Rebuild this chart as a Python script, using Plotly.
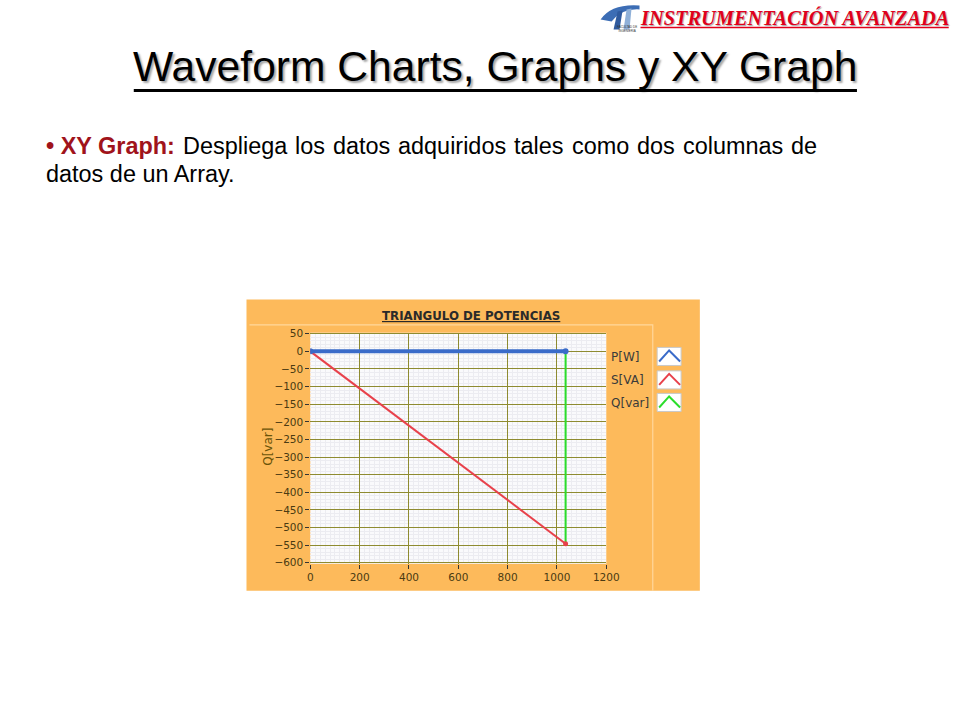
import plotly.graph_objects as go

# ---- data ----
p_x = [0, 1035]
p_y = [0, 0]
s_x = [0, 1035]
s_y = [0, -546]
q_x = [1035, 1035]
q_y = [0, -546]

x_ticks = [0, 200, 400, 600, 800, 1000, 1200]
y_ticks = [50, 0, -50, -100, -150, -200, -250, -300, -350, -400, -450, -500, -550, -600]
legend_names = ["P[W]", "S[VA]", "Q[var]"]
legend_colors = ["#3A6BC9", "#E8414B", "#2BDD2B"]

bullet_lead = "• XY Graph:"
bullet_words = ["Despliega", "los", "datos", "adquiridos", "tales", "como", "dos", "columnas", "de"]
bullet_line2 = "datos de un Array."

W, H = 960, 720
# compensation for the slight shrink observed in the photographed page
AX, BX = 0.9858, 1.9
AY, BY = 0.984, 5.6
def px(x):
    return ((x - BX) / AX) / W
def py(y):
    return 1 - ((y - BY) / AY) / H

fig = go.Figure()
fig.add_trace(go.Scatter(x=q_x, y=q_y, mode="lines", line=dict(color=legend_colors[2], width=2),
                         showlegend=False, hoverinfo="skip"))
fig.add_trace(go.Scatter(x=s_x, y=s_y, mode="lines+markers", line=dict(color=legend_colors[1], width=2),
                         marker=dict(size=5, color=legend_colors[1]), showlegend=False, hoverinfo="skip"))
fig.add_trace(go.Scatter(x=p_x, y=p_y, mode="lines+markers", line=dict(color=legend_colors[0], width=4),
                         marker=dict(size=6, color=legend_colors[0]), showlegend=False, hoverinfo="skip"))

tickfont = dict(family="DejaVu Sans", size=10.5, color="#4A3A12")
major = "#8E8B30"
minor_c = "#ECECF1"

fig.update_xaxes(domain=[px(310), px(606.7)], range=[0, 1200], tickvals=x_ticks,
                 showgrid=True, gridcolor=major, gridwidth=1, zeroline=False, showline=False,
                 ticks="outside", ticklen=4, tickcolor="#333", tickfont=tickfont,
                 minor=dict(dtick=20, showgrid=True, gridcolor=minor_c, gridwidth=1))
fig.update_yaxes(domain=[py(563.2), py(332.6)], range=[-603, 53], tickvals=y_ticks,
                 showgrid=True, gridcolor=major, gridwidth=1, zeroline=False, showline=False,
                 ticks="outside", ticklen=4, tickcolor="#333", tickfont=tickfont,
                 minor=dict(dtick=10, showgrid=True, gridcolor=minor_c, gridwidth=1))

shapes = []
# orange panel
shapes.append(dict(type="rect", xref="paper", yref="paper", x0=px(246), x1=px(700.5), y0=py(590), y1=py(299.5),
                   fillcolor="#FDBA5B", line=dict(width=0), layer="below"))
# white plot area
shapes.append(dict(type="rect", xref="paper", yref="paper", x0=px(310), x1=px(606.7), y0=py(563.2), y1=py(332.6),
                   fillcolor="#FAFAFC", line=dict(width=0), layer="below"))
# faint inner frame
shapes.append(dict(type="path", xref="paper", yref="paper",
                   path=f"M {px(249)} {py(324.7)} L {px(653.3)} {py(324.7)} L {px(653.3)} {py(590)}",
                   line=dict(color="#FFD79C", width=1.2), layer="below"))
# legend icon boxes
box_tops = [347.3, 370.7, 393.2]
for top, col in zip(box_tops, legend_colors):
    l, r, b = 657.7, 681.7, top + 18
    shapes.append(dict(type="rect", xref="paper", yref="paper", x0=px(l), x1=px(r), y0=py(b), y1=py(top),
                       fillcolor="white", line=dict(color="#C9C9C9", width=1)))
    shapes.append(dict(type="path", xref="paper", yref="paper",
                       path=f"M {px(l+2)} {py(b-4)} L {px((l+r)/2)} {py(top+3)} L {px(r-1)} {py(b-4)}",
                       line=dict(color=col, width=2)))
# title underline
shapes.append(dict(type="line", xref="paper", yref="paper", x0=px(133), x1=px(858), y0=py(91), y1=py(91),
                   line=dict(color="black", width=3)))
# header underline
shapes.append(dict(type="line", xref="paper", yref="paper", x0=px(641), x1=px(950), y0=py(28), y1=py(28),
                   line=dict(color="#E0001B", width=1.5)))
# logo (stylised)
shapes.append(dict(type="path", xref="paper", yref="paper",
                   path=(f"M {px(601)} {py(20)} Q {px(612)} {py(4)} {px(640)} {py(6)} "
                         f"L {px(640)} {py(10)} Q {px(622)} {py(9)} {px(612)} {py(22)} Z"),
                   fillcolor="#3C6DB5", line=dict(width=0)))
shapes.append(dict(type="path", xref="paper", yref="paper",
                   path=(f"M {px(614)} {py(30)} L {px(618)} {py(12)} L {px(623)} {py(11)} L {px(620)} {py(30)} Z"),
                   fillcolor="#2F5A9E", line=dict(width=0)))
shapes.append(dict(type="path", xref="paper", yref="paper",
                   path=(f"M {px(624)} {py(30)} L {px(627)} {py(10)} L {px(632)} {py(9)} L {px(630)} {py(30)} Z"),
                   fillcolor="#8FB0D8", line=dict(width=0)))

annotations = []
# slide header
annotations.append(dict(xref="paper", yref="paper", x=px(795.5), y=py(18), xanchor="center", yanchor="middle",
                        text="<b><i>INSTRUMENTACIÓN AVANZADA</i></b>", showarrow=False,
                        font=dict(family="Liberation Serif", size=20.4, color="#E0001B",
                                  shadow="1px 1px 1px rgba(0,0,0,0.35)")))
annotations.append(dict(xref="paper", yref="paper", x=px(627), y=py(29.5), xanchor="center", yanchor="middle",
                        text="FACULTAD DE<br>INGENIERIA", showarrow=False,
                        font=dict(family="Liberation Sans", size=3, color="#333")))
# slide title
annotations.append(dict(xref="paper", yref="paper", x=px(495.5), y=py(66), xanchor="center", yanchor="middle",
                        text="Waveform Charts, Graphs y XY Graph", showarrow=False,
                        font=dict(family="Liberation Sans", size=42.6, color="black",
                                  shadow="2px 2px 2px rgba(0,0,0,0.35)")))

# bullet text, first line justified between x=45 and x=818 (Arial advance widths, 1/1000 em)
FS = 23.45
reg = {"D": 722, "e": 556, "s": 500, "p": 556, "l": 222, "i": 222, "g": 556, "a": 556, "o": 556,
       "d": 556, "t": 278, "q": 556, "u": 556, "r": 333, "c": 500, "m": 833, "n": 556}
bold = {"•": 350, " ": 278, "X": 667, "Y": 667, "G": 778, "r": 389, "a": 556, "p": 611, "h": 611, ":": 333}
lead_w = sum(bold[c] for c in bullet_lead) * FS / 1000
word_w = [sum(reg[c] for c in w) * FS / 1000 for w in bullet_words]
left, right = 45, 818
gap = (right - left - lead_w - sum(word_w)) / len(bullet_words)
y1 = py(146)
annotations.append(dict(xref="paper", yref="paper", x=px(left - 2), y=y1, xanchor="left", yanchor="middle",
                        text=f"<b><span style='color:#A0131B'>{bullet_lead}</span></b>", showarrow=False,
                        font=dict(family="Liberation Sans", size=FS, color="black")))
xpos = left + lead_w + gap
for w, ww in zip(bullet_words, word_w):
    annotations.append(dict(xref="paper", yref="paper", x=px(xpos - 2), y=y1, xanchor="left", yanchor="middle",
                            text=w, showarrow=False,
                            font=dict(family="Liberation Sans", size=FS, color="black")))
    xpos += ww + gap
annotations.append(dict(xref="paper", yref="paper", x=px(43), y=py(174), xanchor="left", yanchor="middle",
                        text=bullet_line2, showarrow=False,
                        font=dict(family="Liberation Sans", size=FS, color="black")))
# chart title
annotations.append(dict(xref="paper", yref="paper", x=px(471.5), y=py(316.3), xanchor="center", yanchor="middle",
                        text="<b><u>TRIANGULO DE POTENCIAS</u></b>", showarrow=False,
                        font=dict(family="DejaVu Sans", size=11.8, color="#2A2A2A")))
# y-axis title
annotations.append(dict(xref="paper", yref="paper", x=px(268), y=py(446), xanchor="center", yanchor="middle",
                        text="Q[var]", textangle=-90, showarrow=False,
                        font=dict(family="DejaVu Sans", size=12, color="#6A5308")))
# legend labels
for yy, name in zip([357.3, 380, 402.5], legend_names):
    annotations.append(dict(xref="paper", yref="paper", x=px(609.5), y=py(yy), xanchor="left", yanchor="middle",
                            text=name, showarrow=False,
                            font=dict(family="DejaVu Sans", size=12, color="#3A3A3A")))

fig.update_layout(width=W, height=H, margin=dict(l=0, r=0, t=0, b=0),
                  paper_bgcolor="white", plot_bgcolor="#FAFAFC",
                  shapes=shapes, annotations=annotations, showlegend=False)

fig.write_html("out.html", config={"displayModeBar": False},
               post_script="document.body.style.margin='0';document.body.style.overflow='hidden';")
